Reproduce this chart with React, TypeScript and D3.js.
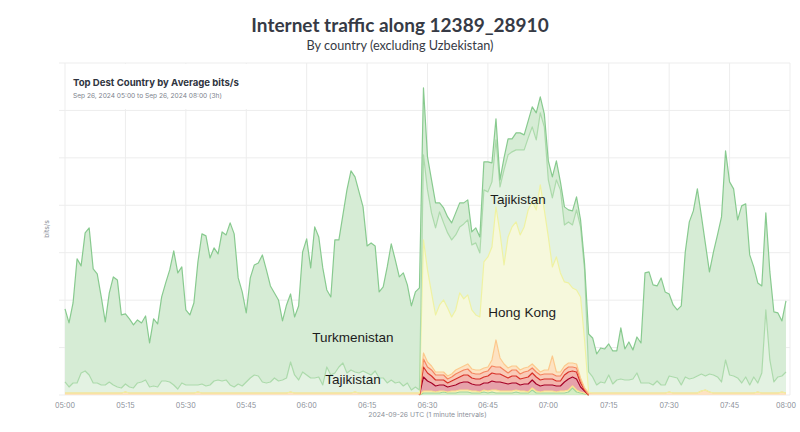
import React from "react";
import * as d3 from "d3";

// Tweakables
const width = 800;
const height = 432;
const margin = { top: 63, right: 10, bottom: 37, left: 65 };
const startTime = new Date(Date.UTC(2024, 8, 26, 5, 0));
const endTime = new Date(Date.UTC(2024, 8, 26, 8, 0));
const gridStep = 47.4; // Mbit/s between horizontal grid lines
const gridCount = 7;

// Minute-by-minute average bits/s (Mbit/s), 05:00 .. 07:59 UTC
const turkmenistan = [
  73, 64, 80, 124, 107, 138, 147, 114, 109, 88,
  63, 89, 108, 107, 73, 70, 68, 63, 63, 59,
  64, 44, 67, 63, 84, 98, 112, 134, 116, 116,
  75, 70, 82, 123, 150, 150, 127, 133, 126, 149,
  145, 162, 153, 106, 94, 69, 100, 110, 113, 127,
  113, 96, 85, 81, 59, 73, 68, 58, 74, 120,
  136, 110, 151, 140, 117, 77, 78, 133, 127, 148,
  183, 199, 195, 181, 164, 127, 132, 125, 86, 91,
  116, 136, 123, 105, 113, 98, 84, 95, 102, 67,
  33, 33, 25, 9, 15, 16, 17, 22, 24, 21,
  20, 13, 15, 16, 28, 30, 19, 21, 7, 12,
  16, 13, 17, 17, 15, 17, 20, 27, 16, 13,
  19, 21, 19, 8, 18, 12, 14, 13, 7, 6,
  38, 39, 31, 34, 34, 31, 33, 29, 51, 31,
  38, 29, 36, 40, 110, 111, 100, 95, 107, 93,
  82, 72, 68, 79, 125, 157, 167, 187, 158, 132,
  102, 123, 142, 165, 209, 193, 187, 158, 177, 173,
  130, 110, 100, 87, 97, 88, 70, 64, 55, 71,
];

const tajikistan = [
  11, 6, 10, 10, 20, 22, 18, 10, 10, 8,
  8, 11, 8, 6, 5, 8, 6, 5, 10, 11,
  13, 6, 7, 6, 12, 12, 11, 8, 4, 10,
  8, 8, 8, 7, 9, 7, 8, 12, 13, 12,
  13, 8, 6, 9, 7, 11, 15, 18, 17, 11,
  10, 11, 15, 12, 13, 15, 30, 18, 13, 21,
  18, 15, 15, 16, 8, 26, 18, 20, 26, 30,
  20, 23, 20, 20, 22, 20, 18, 22, 15, 15,
  10, 13, 10, 11, 7, 10, 3, 6, 3, 85,
  80, 80, 87, 93, 77, 75, 77, 75, 66, 75,
  75, 65, 72, 64, 72, 65, 65, 67, 46, 95,
  82, 75, 72, 85, 77, 72, 75, 70, 72, 83,
  57, 69, 77, 83, 57, 61, 63, 80, 70, 70,
  20, 16, 8, 11, 10, 18, 9, 13, 14, 13,
  13, 14, 20, 10, 10, 10, 8, 12, 8, 8,
  16, 16, 15, 8, 16, 14, 15, 17, 17, 14,
  18, 18, 16, 11, 33, 18, 17, 15, 10, 16,
  8, 16, 9, 20, 83, 33, 11, 16, 16, 21,
];

const other = [
  2, 2, 2, 2, 2, 2, 2, 2, 2, 2,
  2, 2, 2, 2, 2, 3, 2, 2, 2, 2,
  2, 2, 2, 2, 2, 2, 2, 2, 2, 2,
  2, 2, 2, 3, 2, 2, 2, 2, 2, 2,
  2, 2, 2, 2, 2, 2, 2, 2, 2, 2,
  2, 2, 2, 2, 2, 2, 3, 2, 2, 2,
  2, 2, 2, 2, 2, 2, 2, 2, 2, 2,
  2, 2, 3, 2, 2, 2, 2, 2, 2, 2,
  2, 2, 2, 2, 2, 2, 2, 2, 2, 6,
  5, 4, 3, 3, 3, 3, 3, 4, 4, 4,
  5, 4, 4, 4, 4, 4, 6, 27, 9, 6,
  5, 4, 4, 4, 4, 4, 4, 4, 3, 4,
  4, 18, 4, 4, 4, 4, 4, 4, 2, 1,
  2, 2, 2, 2, 2, 2, 2, 2, 2, 2,
  2, 2, 2, 2, 2, 2, 2, 2, 2, 2,
  3, 2, 2, 2, 2, 2, 2, 2, 4, 5,
  3, 2, 2, 2, 2, 2, 2, 2, 2, 2,
  2, 2, 3, 2, 2, 2, 2, 2, 3, 2,
];

// Only non-zero between 06:28 and 07:10
const burstStart = 88;
const hongKong = [
  0, 113, 92, 73, 57, 67, 72, 68, 57, 60, 75,
  67, 69, 59, 55, 53, 106, 110, 113, 133, 125,
  99, 131, 139, 144, 135, 141, 157, 162, 158, 187,
  160, 133, 89, 115, 99, 84, 80, 75, 74, 81,
  48, 1,
];
const china = [
  0, 8, 6, 6, 5, 5, 5, 4, 4, 5, 5,
  5, 6, 5, 5, 5, 5, 5, 7, 7, 7,
  6, 5, 6, 6, 5, 6, 6, 5, 5, 5,
  5, 5, 5, 5, 5, 5, 5, 4, 4, 3,
  1, 0,
];
const kazakhstan = [
  0, 10, 8, 7, 6, 5, 5, 4, 5, 6, 6,
  7, 7, 6, 6, 6, 6, 7, 8, 8, 8,
  7, 6, 7, 7, 6, 6, 7, 7, 7, 6,
  6, 6, 6, 5, 5, 7, 7, 6, 7, 4,
  1, 0,
];
const russia = [
  0, 14, 10, 8, 6, 6, 6, 5, 5, 6, 7,
  8, 8, 7, 6, 7, 7, 8, 9, 8, 9,
  8, 7, 8, 7, 6, 7, 8, 8, 7, 6,
  6, 6, 6, 6, 5, 9, 11, 9, 11, 5,
  2, 0,
];
const afghanistan = [
  0, 2, 2, 2, 1, 2, 1, 1, 2, 2, 2,
  2, 2, 2, 2, 1, 2, 2, 2, 3, 2,
  2, 2, 2, 2, 2, 2, 1, 2, 2, 1,
  2, 2, 2, 1, 2, 2, 2, 2, 2, 1,
  1, 0,
];
const kyrgyzstan = [
  0, 2, 2, 2, 2, 2, 3, 2, 2, 2, 3,
  3, 3, 2, 2, 2, 3, 2, 3, 2, 2,
  2, 2, 2, 3, 2, 2, 2, 5, 2, 2,
  2, 2, 2, 2, 2, 2, 3, 7, 3, 2,
  1, 0,
];

// bottom -> top
const seriesKeys = [
  "Kyrgyzstan",
  "Afghanistan",
  "Russia",
  "Kazakhstan",
  "China",
  "Other",
  "Hong Kong",
  "Tajikistan",
  "Turkmenistan",
];
const burstKeys = ["Kyrgyzstan", "Afghanistan", "Russia", "Kazakhstan", "China"];
const fills: Record<string, string> = {
  Kyrgyzstan: "#d4edc4",
  Afghanistan: "#fdf1bd",
  Russia: "#e6a2aa",
  Kazakhstan: "#f3b5ad",
  China: "#f9cbb8",
  Other: "#fde2c2",
  "Hong Kong": "#f6f8dc",
  Tajikistan: "#e3f2e2",
  Turkmenistan: "#d6ecd5",
};
const strokes: Record<string, string> = {
  Kyrgyzstan: "#9fd59a",
  Afghanistan: "#f9e08a",
  Russia: "#a50026",
  Kazakhstan: "#d73027",
  China: "#f4845f",
  Other: "#fcc98c",
  "Hong Kong": "#eff2a2",
  Tajikistan: "#acdaab",
  Turkmenistan: "#88ca8f",
};

const burst = (arr: number[], i: number) => {
  const j = i - burstStart;
  return j >= 0 && j < arr.length ? arr[j] : 0;
};

const rows = turkmenistan.map((_, i) => ({
  time: d3.utcMinute.offset(startTime, i),
  Kyrgyzstan: burst(kyrgyzstan, i),
  Afghanistan: burst(afghanistan, i),
  Russia: burst(russia, i),
  Kazakhstan: burst(kazakhstan, i),
  China: burst(china, i),
  Other: other[i],
  "Hong Kong": burst(hongKong, i),
  Tajikistan: tajikistan[i],
  Turkmenistan: turkmenistan[i],
}));

const labels = [
  { text: "Turkmenistan", minute: 71.5, value: 57 },
  { text: "Tajikistan", minute: 71.5, value: 15 },
  { text: "Tajikistan", minute: 112.5, value: 195 },
  { text: "Hong Kong", minute: 113.5, value: 82 },
];

export default function App() {
  const x = d3
    .scaleUtc()
    .domain([startTime, endTime])
    .range([margin.left, width - margin.right]);
  const y = d3
    .scaleLinear()
    .domain([0, gridStep * gridCount])
    .range([height - margin.bottom, margin.top]);

  const stacked = d3.stack<any>().keys(seriesKeys)(rows);
  const area = d3
    .area<any>()
    .x((d) => x(d.data.time))
    .y0((d) => y(d[0]))
    .y1((d) => y(d[1]));
  const line = d3
    .line<any>()
    .x((d) => x(d.data.time))
    .y((d) => y(d[1]));
  const burstLine = d3
    .line<any>()
    .defined((_, i) => i >= burstStart && i < burstStart + kyrgyzstan.length)
    .x((d) => x(d.data.time))
    .y((d) => y(d[1]));

  const xTicks = x.ticks(d3.utcMinute.every(15)!);
  const yGrid = d3.range(0, gridCount + 1).map((i) => i * gridStep);
  const fmt = d3.utcFormat("%H:%M");
  const plotBottom = y(0);

  return (
    <>
      <style>{`body{margin:0}`}</style>
      <svg width={width} height={height} style={{ display: "block", background: "#fff" }}>
        <text
          x={400}
          y={32}
          textAnchor="middle"
          fontFamily="Lato"
          fontWeight={700}
          fontSize={19}
          fill="#363a45"
        >
          Internet traffic along 12389_28910
        </text>
        <text x={400} y={50} textAnchor="middle" fontFamily="Lato" fontSize={12.7} fill="#363a45">
          By country (excluding Uzbekistan)
        </text>

        <g stroke="#ededed" strokeWidth={1}>
          {yGrid.map((v) => (
            <line key={"h" + v} x1={59} x2={width - margin.right} y1={y(v)} y2={y(v)} />
          ))}
          {xTicks.map((t) => (
            <line key={"v" + +t} x1={x(t)} x2={x(t)} y1={margin.top} y2={plotBottom} />
          ))}
        </g>

        {stacked.map((s) => (
          <path key={"a" + s.key} d={area(s) || ""} fill={fills[s.key]} stroke="none" />
        ))}
        {stacked.map((s) => (
          <path
            key={"l" + s.key}
            d={(burstKeys.includes(s.key) ? burstLine(s) : line(s)) || ""}
            fill="none"
            stroke={strokes[s.key]}
            strokeWidth={1.2}
            strokeLinejoin="round"
          />
        ))}

        {labels.map((l, i) => (
          <text
            key={i}
            x={x(d3.utcSecond.offset(startTime, l.minute * 60))}
            y={y(l.value)}
            textAnchor="middle"
            dominantBaseline="central"
            fontFamily="Liberation Sans, Arial, sans-serif"
            fontSize={13.5}
            fill="#1c1c1c"
          >
            {l.text}
          </text>
        ))}

        {/* header card */}
        <rect x={66} y={64} width={186} height={45} fill="#fff" />
        <text x={73} y={86} fontFamily="Inter" fontWeight={700} fontSize={9.6} fill="#2f3440">
          Top Dest Country by Average bits/s
        </text>
        <text x={73} y={97.5} fontFamily="Inter" fontSize={6.6} fill="#7d838d">
          Sep 26, 2024 05:00 to Sep 26, 2024 08:00 (3h)
        </text>

        {/* axes */}
        {xTicks.map((t) => (
          <text
            key={"t" + +t}
            x={Math.min(x(t), 786)}
            y={408}
            textAnchor="middle"
            fontFamily="Inter"
            fontSize={7.2}
            fill="#8b9099"
          >
            {fmt(t)}
          </text>
        ))}
        <text
          x={(margin.left + width - margin.right) / 2}
          y={417}
          textAnchor="middle"
          fontFamily="Inter"
          fontSize={6.8}
          fill="#8b9099"
        >
          2024-09-26 UTC (1 minute intervals)
        </text>
        <text
          transform={`translate(49, ${(margin.top + plotBottom) / 2}) rotate(-90)`}
          textAnchor="middle"
          fontFamily="Inter"
          fontSize={6.8}
          fill="#8b9099"
        >
          bits/s
        </text>
      </svg>
    </>
  );
}
